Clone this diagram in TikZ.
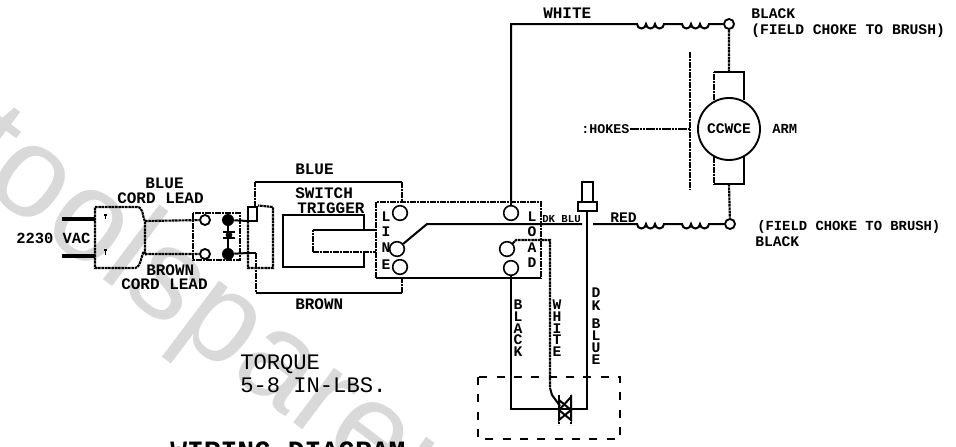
\documentclass[tikz,border=0pt]{standalone}
\usepackage{fontspec}
\setmainfont{Liberation Sans}
\newfontfamily\cad{Liberation Mono}
\newcommand{\cadsize}[1]{\cad\bfseries\fontsize{#1}{#1}\selectfont}
\begin{document}
\begin{tikzpicture}[x=0.75pt,y=-0.75pt,
  wire/.style={line width=1.5pt},
  stipple/.style={line width=1.6pt,dash pattern=on 2pt off 0.5pt},
  term/.style={circle,draw,line width=1.2pt,minimum size=11pt,inner sep=0pt,fill=white},
  smallterm/.style={circle,draw,line width=1.4pt,minimum size=7.5pt,inner sep=0pt,fill=white},
  bigdot/.style={circle,fill=black,minimum size=9pt,inner sep=0pt},
  lab/.style={font=\cadsize{11},inner sep=0pt,anchor=base west},
  wide lab/.style={font=\cadsize{12},inner sep=0pt,anchor=base west},
  tiny lab/.style={font=\cadsize{8},inner sep=0pt,anchor=base west},
  big lab/.style={font=\cad\fontsize{16.6}{17}\selectfont,inner sep=0pt,anchor=base west},
  title lab/.style={font=\cadsize{21},inner sep=0pt,anchor=base west},
  letter lab/.style={font=\cadsize{11},inner sep=0pt,anchor=center},
  mark lab/.style={gray!30,font=\fontsize{97}{99}\selectfont,inner sep=0pt,anchor=base west,rotate=-37}]
\useasboundingbox (0,0) rectangle (956,446);
\clip (0,0) rectangle (956,446);
\fill[white] (0,0) rectangle (956,446);
\node[mark lab] (wm) at (-47,166) {toolsparen};
% plug
\draw[stipple] (95,207) -- (137,207) to[out=0,in=115] (145,222) -- (145,253) to[out=115,in=0] (135,268) -- (95,268) -- cycle;
\coordinate (plugT) at (145,221); \coordinate (plugB) at (145,254);
\coordinate (pr1a) at (62,219); \coordinate (pr1b) at (95,219);
\coordinate (pr2a) at (62,256); \coordinate (pr2b) at (95,256);
\draw[line width=2.6pt] (pr1a)--(pr1b) (pr2a)--(pr2b);
\draw[line width=.8pt] (104,215)--(107,215) (105.5,215)--(105.5,219) (104,250)--(107,250) (105.5,250)--(105.5,255);
\node[font=\cadsize{11.6},inner sep=0pt,anchor=base west] (v) at (16,243) {2230 VAC};
\node[wide lab] (l1) at (145,188) {BLUE};
\node[wide lab] (l2) at (117,203) {CORD LEAD};
\node[wide lab] (l3) at (146,275) {BROWN};
\node[wide lab] (l4) at (121,289) {CORD LEAD};
% suppressor box
\draw[stipple] (193,213) rectangle (240,260);
\node[smallterm] (t1) at (205,220) {};
\node[smallterm] (t2) at (205,254) {};
\node[bigdot] (d1) at (228,220) {};
\node[bigdot] (d2) at (228,254) {};
\node[bigdot,minimum size=5pt] (d3) at (229,235) {};
\draw[stipple] (plugT)--(t1) (plugB)--(t2);
\draw[wire] (d1)--(d2);
\draw[line width=1.2pt] (223,232)--(235,232) (223,238)--(235,238);
% switch
\coordinate (s1) at (248,221); \coordinate (s2) at (248,253);
\draw[wire] (d1)--(s1) (d2)--(s2);
\node[draw,wire,minimum width=6.5pt,minimum height=10.5pt,inner sep=0pt] (plugin) at (252.5,213.5) {};
\draw[stipple] (s1)--(248,268)--(273,268)--(273,207)--(plugin.north east);
\draw[stipple] (255,207)--(255,182);
\draw[wire] (255,182)--(402,182);
\draw[stipple] (402,182)--(402,207);
\draw[wire] (s2)--(256,253);
\draw[stipple] (256,253)--(256,293);
\draw[wire] (256,293)--(402,293);
\draw[stipple] (402,293)--(402,270);
\draw[wire] (283,215) rectangle (364,267);
\draw[fill=white,draw=none] (313,230) rectangle (376,252);
\draw[stipple] (313,252)--(313,230);
\draw[wire] (313,230)--(376,230);
\draw[stipple] (313,252)--(376,252);
% block
\path[fill=white] (376,202) rectangle (541,278);
\draw[stipple] (376,278)--(376,202)--(541,202)--(541,278);
\draw[wire] (376,278)--(541,278);
\node[wide lab] at (295,174) {BLUE};
\node[wide lab] (sw) at (295,198) {SWITCH};
\node[wide lab] (tr) at (297,213) {TRIGGER};
\node[wide lab] at (295,309) {BROWN};
% terminals
\node[term] (L1) at (400,213) {};
\node[term] (LN) at (397,249) {};
\node[term] (LE) at (400,267) {};
\node[term] (R1) at (511,213) {};
\node[term] (R2) at (507,249) {};
\node[term] (R3) at (511,268) {};
\foreach \t/\y in {L/217,I/232,N/248,E/265}{\node[letter lab] at (386,\y) {\t};}
\foreach \t/\y in {L/217,O/232,A/248,D/263}{\node[letter lab] at (532,\y) {\t};}
% connector
\node[draw,wire,fill=white,minimum width=8.25pt,minimum height=15.75pt,inner sep=0pt] (cn1) at (587.5,192.5) {};
\node[draw,line width=1.6pt,fill=white,minimum width=14.25pt,minimum height=6.75pt,inner sep=0pt] (cn2) at (587.5,206.5) {};
% coils and main wires
\coordinate (wh) at (511,24);
\node[smallterm] (A1) at (729,24) {};
\node[smallterm] (A2) at (730,224) {};
\draw[wire] (R1)--(wh)--(637,24)
  arc[start angle=180,end angle=0,radius=4.5] arc[start angle=180,end angle=0,radius=4.5] arc[start angle=180,end angle=0,radius=4.5]
  --(682,24)
  arc[start angle=180,end angle=0,radius=4.5] arc[start angle=180,end angle=0,radius=4.5] arc[start angle=180,end angle=0,radius=4.5]
  --(A1);
\draw[wire] (LN)--(427,224)--(582,224);
\draw[wire] (593,224)--(637,224)
  arc[start angle=180,end angle=0,radius=4.5] arc[start angle=180,end angle=0,radius=4.5] arc[start angle=180,end angle=0,radius=4.5]
  --(682,224)
  arc[start angle=180,end angle=0,radius=4.5] arc[start angle=180,end angle=0,radius=4.5] arc[start angle=180,end angle=0,radius=4.5]
  --(A2);
\node[tiny lab] at (542,222) {DK BLU};
\node[lab] at (610,222) {RED};
\node[wide lab] at (543,18) {WHITE};
\node[lab] at (751,18) {BLACK};
\node[lab] at (751,34) {(FIELD CHOKE TO BRUSH)};
\node[font=\cadsize{10.4},inner sep=0pt,anchor=base west] at (757,230) {(FIELD CHOKE TO BRUSH)};
\node[lab] at (755,246) {BLACK};
% motor
\draw[stipple] (714,100)--(714,72);
\draw[wire] (714,72)--(744,72)--(744,100);
\draw[stipple] (714,157)--(714,184);
\draw[wire] (714,184)--(744,184)--(744,157);
\node[circle,draw,line width=1.4pt,minimum size=46.5pt,inner sep=0pt,fill=white,font=\cadsize{11}] (M) at (729,129) {CCWCE};
\draw[stipple] (A1)--(729,72) (729,184)--(A2);
\coordinate (barT) at (690,52); \coordinate (barB) at (690,190); \coordinate (barM) at (690,129);
\draw[stipple] (barT)--(barB);
\node[font=\cadsize{10},inner sep=0pt,anchor=base west] (ch) at (581,133) {:HOKES};
\coordinate (chEnd) at (630,129);
\draw[line width=.8pt,dash pattern=on 2pt off .4pt] (chEnd)--(barM);
\node[font=\cadsize{10.4},inner sep=0pt,anchor=base west] at (772,133) {ARM};
% load wires
\draw[wire] (R3)--(511,409)--(587,409)--(587,210);
\draw[stipple] (R2)--(516,240)--(550,240)--(550,388);
\draw[wire] (550,388)--(552,395)--(560,406);
\draw[dash pattern=on 6pt off 7pt,line width=1.3pt] (478,377) rectangle (620,439);
\begin{scope}[line width=1.5pt]
\draw[stipple] (559,395)--(559,425) (571,395)--(571,425);
\draw (559,400)--(571,410)--(559,420)--cycle;
\draw (571,397)--(559,410)--(571,420)--cycle;
\end{scope}
\foreach \t/\y in {B/305,L/317,A/329,C/340,K/352}{\node[letter lab] at (518,\y) {\t};}
\foreach \t/\y in {W/305,H/317,I/329,T/340,E/352}{\node[letter lab] at (557,\y) {\t};}
\foreach \t/\y in {D/293,K/306,B/324,L/336,U/348,E/360}{\node[letter lab] at (596,\y) {\t};}
\node[big lab] at (240,369) {TORQUE};
\node[big lab] at (240,392) {5-8 IN-LBS.};
\node[title lab] at (170,460) {WIRING DIAGRAM};
\end{tikzpicture}
\end{document}
